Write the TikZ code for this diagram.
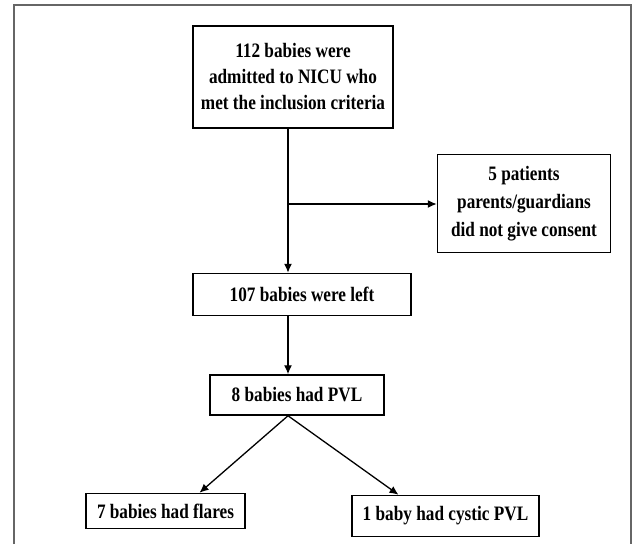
\documentclass[tikz,border=0pt]{standalone}
\usepackage{fontspec}
\setmainfont[FakeStretch=0.84]{Liberation Serif}
\usetikzlibrary{positioning,arrows.meta}

\tikzset{
  stage/.style={draw=black, line width=1.5pt, inner sep=0pt, align=center,
    font=\bfseries\fontsize{20.5}{26}\selectfont},
  flow/.style={line width=1.3pt, -{Latex[length=9pt,width=8pt]}}
}

\begin{document}
\begin{tikzpicture}[x=1pt, y=-1pt]
          \useasboundingbox (0,0) rectangle (635,544);
          \draw [black!60, line width=1.5pt] (14,544) -- (14,5) -- (631,5) -- (631,544);

          \node (admit)   [stage, minimum width=200pt, minimum height=102pt] at (293,77)
                {112 babies were\\admitted to NICU who\\met the inclusion criteria};
          \node (consent) [stage, minimum width=173pt, minimum height=98pt,
                           below right=25pt and 43pt of admit, font=\bfseries\fontsize{20.5}{28}\selectfont]
                {5 patients\\parents/guardians\\did not give consent};
          \node (left)    [stage, minimum width=218pt, minimum height=42pt,
                           below=144pt of admit.south west, anchor=north west]
                {107 babies were left};
          \node (pvl)     [stage, minimum width=174pt, minimum height=40pt,
                           below=58pt of left, xshift=-5pt]
                {8 babies had PVL};
          \node (flares)  [stage, minimum width=159pt, minimum height=35pt,
                           below=77pt of pvl, xshift=-131.5pt]
                {7 babies had flares};
          \node (cystic)  [stage, minimum width=187pt, minimum height=41pt,
                           below=79pt of pvl, xshift=148.5pt]
                {1 baby had cystic PVL};

          \coordinate (split) at (288,204);

          \draw [flow] (split |- admit.south) -- (split |- left.north);
          \draw [flow] (split) -- (split -| consent.west);
          \draw [flow] (split |- left.south) -- (split |- pvl.north);
          \draw [flow] (split |- pvl.south) -- ([xshift=34pt]flares.north);
          \draw [flow] (split |- pvl.south) -- ([xshift=-47pt]cystic.north);
        \end{tikzpicture}
\end{document}
